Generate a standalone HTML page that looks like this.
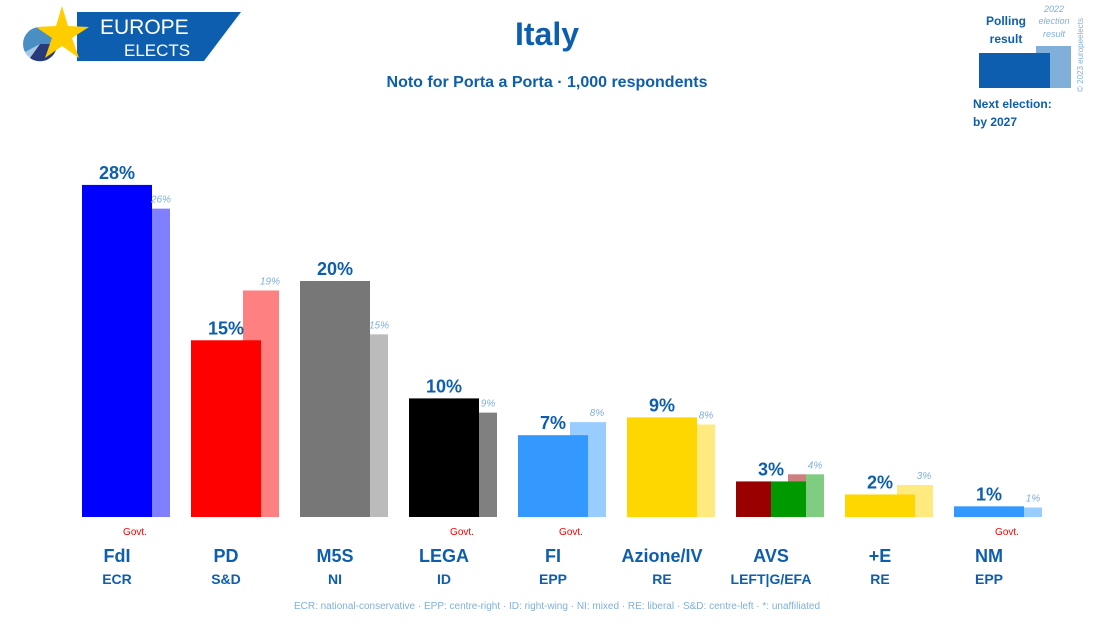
<!DOCTYPE html>
<html><head><meta charset="utf-8"><style>
body{margin:0;background:#fff;width:1095px;height:619px;overflow:hidden;font-family:"Liberation Sans",sans-serif}
svg text{font-family:"Liberation Sans",sans-serif}
</style></head><body>
<svg id="c" width="1095" height="619" xmlns="http://www.w3.org/2000/svg">
<g>
<polygon points="77,12 241,12 204,61 77,61" fill="#0d5eaf"/>
<circle cx="40" cy="44" r="17" fill="#4a8fc4"/>
<path d="M40,44 L40,61 A17,17 0 0 1 25,52 Z" fill="#a9c8e6"/>
<path d="M40,44 L57,44 A17,17 0 0 1 30,58 Z" fill="#283a7a"/>
<polygon points="62,6 68,26 89,27 72,38 79,58 62,46 45,58 52,38 36,27 56,26" fill="#ffcc00"/>
<text x="100" y="34" font-size="21" fill="#fff">EUROPE</text>
<text x="124" y="56" font-size="17" fill="#fff">ELECTS</text>
</g>
<text x="547" y="45" font-size="32" font-weight="bold" fill="#0d5eaf" text-anchor="middle">Italy</text>
<text x="547" y="87" font-size="16" font-weight="bold" fill="#0d5eaf" text-anchor="middle">Noto for Porta a Porta · 1,000 respondents</text>
<g>
<rect x="1036" y="46" width="35" height="42" fill="#80b0da"/>
<rect x="979" y="53" width="71" height="35" fill="#0d5eaf"/>
<text x="1006" y="25" font-size="12" font-weight="bold" fill="#0d5eaf" text-anchor="middle">Polling</text>
<text x="1006" y="43" font-size="12" font-weight="bold" fill="#0d5eaf" text-anchor="middle">result</text>
<text x="1054" y="12" font-size="9" font-style="italic" fill="#80b0da" text-anchor="middle">2022</text>
<text x="1054" y="24" font-size="9" font-style="italic" fill="#80b0da" text-anchor="middle">election</text>
<text x="1054" y="37" font-size="9" font-style="italic" fill="#80b0da" text-anchor="middle">result</text>
<text x="973" y="108" font-size="12" font-weight="bold" fill="#0d5eaf">Next election:</text>
<text x="973" y="126" font-size="12" font-weight="bold" fill="#0d5eaf">by 2027</text>
<text transform="translate(1083,92) rotate(-90)" font-size="8" fill="#80b0da">© 2023 europeelects</text>
</g>
<g id="bars"></g>
<text x="557" y="609" font-size="10" fill="#80b0da" text-anchor="middle">ECR: national-conservative · EPP: centre-right · ID: right-wing · NI: mixed · RE: liberal · S&amp;D: centre-left · *: unaffiliated</text>
</svg>
<script>
const parties=["FdI","PD","M5S","LEGA","FI","Azione/IV","AVS","+E","NM"];
const groups=["ECR","S&D","NI","ID","EPP","RE","LEFT|G/EFA","RE","EPP"];
const poll=[28,15,20,10,7,9,3,2,1];
const pollH=[28,14.9,19.9,10,6.9,8.4,3,1.9,0.9];
const prev=[26,19,15,9,8,8,4,3,1];
const prevH=[26,19.1,15.4,8.8,8,7.8,3.6,2.7,0.8];
const govt=[1,0,0,1,1,0,0,0,1];
const colors=["#0000ff","#ff0000","#777777","#000000","#3399ff","#ffd700",["#990000","#009900"],"#ffd700","#3399ff"];
const prevColors=["#8080ff","#ff8080","#bbbbbb","#808080","#99ccff","#ffea80",["#cc8080","#80cc80"],"#ffea80","#99ccff"];
const base=517, k=11.86, x0=82, step=109, bw=70;
const y=v=>base-v*k;
const g=document.getElementById('bars');
const NS="http://www.w3.org/2000/svg";
function el(t,a,txt){const e=document.createElementNS(NS,t);for(const n in a)e.setAttribute(n,a[n]);if(txt!==undefined)e.textContent=txt;g.appendChild(e);return e;}
parties.forEach((p,i)=>{
  const x=x0+i*step;
  const pc=prevColors[i], c=colors[i];
  if(Array.isArray(pc)){
    let r=el('rect',{x:x+52,y:y(prevH[i]),width:18,height:prevH[i]*k,fill:pc[0]});
    
    
    r=el('rect',{x:x+70,y:y(prevH[i]),width:18,height:prevH[i]*k,fill:pc[1]});
    
    
  } else {
    const r=el('rect',{x:x+52,y:y(prevH[i]),width:36,height:prevH[i]*k,fill:pc});
    
    
  }
  if(Array.isArray(c)){
    let r=el('rect',{x:x,y:y(pollH[i]),width:35,height:pollH[i]*k,fill:c[0]});
    
    
    r=el('rect',{x:x+35,y:y(pollH[i]),width:35,height:pollH[i]*k,fill:c[1]});
    
    
  } else {
    const r=el('rect',{x:x,y:y(pollH[i]),width:bw,height:pollH[i]*k,fill:c});
    
    
  }
  let t=el('text',{x:x+35,y:y(pollH[i])-6,'font-size':18,'font-weight':'bold',fill:'#0d5eaf','text-anchor':'middle'},poll[i]+'%');
  
  
  t=el('text',{x:x+79,y:y(prevH[i])-6,'font-size':10,'font-style':'italic',fill:'#80b0da','text-anchor':'middle'},prev[i]+'%');
  
  
  t=el('text',{x:x+35,y:562,'font-size':18,'font-weight':'bold',fill:'#0d5eaf','text-anchor':'middle'},p);
  
  
  t=el('text',{x:x+35,y:584,'font-size':14,'font-weight':'bold',fill:'#0d5eaf','text-anchor':'middle'},groups[i]);
  
  
  if(govt[i]){
    t=el('text',{x:x+53,y:535,'font-size':10,fill:'#ff0000','text-anchor':'middle'},'Govt.');
    
    
  }
});
</script>
</body></html>
